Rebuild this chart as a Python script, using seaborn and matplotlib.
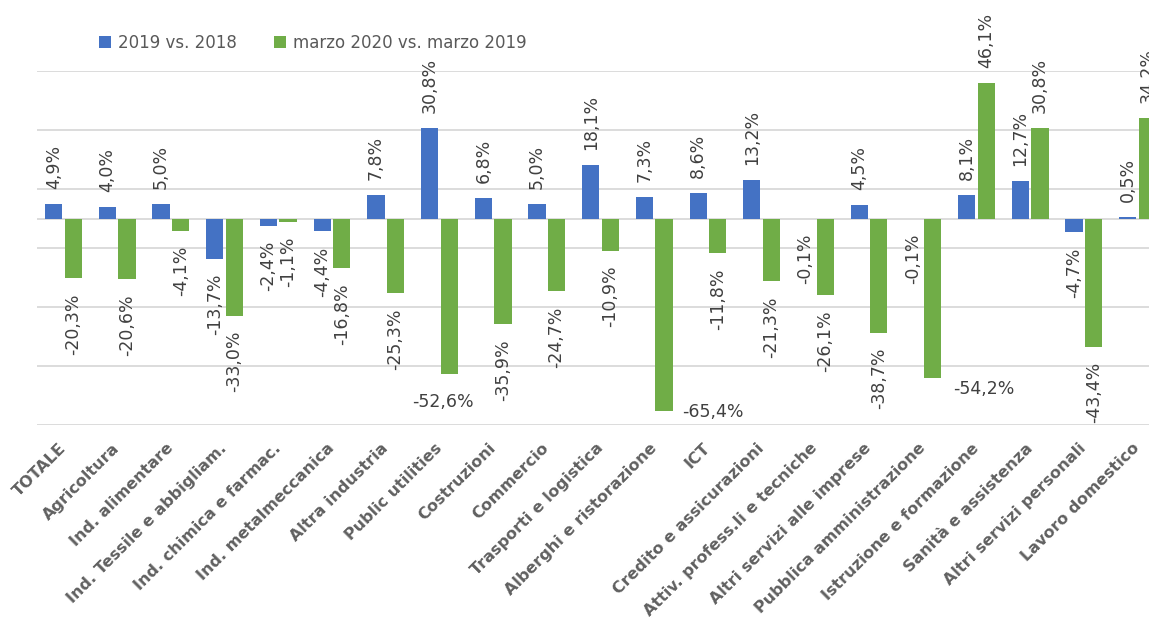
import pandas as pd
import matplotlib
matplotlib.use("Agg")
import matplotlib.pyplot as plt
import seaborn as sns

settori = [
    "TOTALE", "Agricoltura", "Ind. alimentare", "Ind. Tessile e abbigliam.",
    "Ind. chimica e farmac.", "Ind. metalmeccanica", "Altra industria",
    "Public utilities", "Costruzioni", "Commercio", "Trasporti e logistica",
    "Alberghi e ristorazione", "ICT", "Credito e assicurazioni",
    "Attiv. profess.li e tecniche", "Altri servizi alle imprese",
    "Pubblica amministrazione", "Istruzione e formazione",
    "Sanità e assistenza", "Altri servizi personali", "Lavoro domestico",
]
var_2019 = [4.9, 4.0, 5.0, -13.7, -2.4, -4.4, 7.8, 30.8, 6.8, 5.0, 18.1,
            7.3, 8.6, 13.2, -0.1, 4.5, -0.1, 8.1, 12.7, -4.7, 0.5]
var_marzo = [-20.3, -20.6, -4.1, -33.0, -1.1, -16.8, -25.3, -52.6, -35.9, -24.7, -10.9,
             -65.4, -11.8, -21.3, -26.1, -38.7, -54.2, 46.1, 30.8, -43.4, 34.2]
serie = ["2019 vs. 2018", "marzo 2020 vs. marzo 2019"]

BLUE = "#4472C4"
GREEN = "#70AD47"
GRID = "#D9D9D9"
TXT = "#404040"

df = pd.DataFrame({
    "settore": settori * 2,
    "valore": var_2019 + var_marzo,
    "serie": [serie[0]] * len(settori) + [serie[1]] * len(settori),
})

sns.set_style("white")
plt.rcParams["font.family"] = ["DejaVu Sans"]

fig = plt.figure(figsize=(11.49, 6.19), dpi=100)
ax = fig.add_axes([0.0319, 0.3134, 0.9815, 0.5719])

for y in [-70, -50, -30, -10, 10, 30, 50]:
    ax.axhline(y, color=GRID, lw=1.3, zorder=0)
ax.axhline(0, color=GRID, lw=1.3, zorder=0)

sns.barplot(data=df, x="settore", y="valore", hue="serie", palette=[BLUE, GREEN],
            saturation=1, width=0.73, gap=0.12, ax=ax, legend=True, linewidth=0)

ax.set_ylim(-70, 50)
ax.set_xlim(-0.5, len(settori) - 0.5)
ax.set_yticks([])
ax.set_xlabel("")
ax.set_ylabel("")
sns.despine(ax=ax, left=True, bottom=True)
ax.tick_params(axis="x", length=0, pad=15)
plt.setp(ax.get_xticklabels(), rotation=45, ha="right", rotation_mode="anchor",
         va="center", fontsize=11.5, fontweight="bold", color="#606060")

# etichette dei valori: alcune in orizzontale come nell'originale
speciali = {
    (1, 7): dict(xytext=(-6, -28), ha="center"),
    (1, 11): dict(xytext=(9, -1), ha="left"),
    (1, 16): dict(xytext=(12, -11), ha="left"),
}
valori = [var_2019, var_marzo]
for h, cont in enumerate(ax.containers):
    for i, bar in enumerate(cont):
        v = valori[h][i]
        xc = bar.get_x() + bar.get_width() / 2
        testo = f"{v:.1f}%".replace(".", ",")
        if (h, i) in speciali:
            opt = speciali[(h, i)]
            if opt["ha"] == "left":
                xc = bar.get_x() + bar.get_width()
            ax.annotate(testo, (xc, v), xytext=opt["xytext"], textcoords="offset pixels",
                        ha=opt["ha"], va="center", fontsize=12.5, color=TXT,
                        annotation_clip=False)
            continue
        if v >= 0:
            ax.annotate(testo, (xc, v), xytext=(0, 15), textcoords="offset pixels",
                        rotation=90, ha="center", va="bottom", fontsize=12.5,
                        color=TXT, annotation_clip=False)
        else:
            ax.annotate(testo, (xc, v), xytext=(0, -15), textcoords="offset pixels",
                        rotation=90, ha="center", va="top", fontsize=12.5,
                        color=TXT, annotation_clip=False)

handles, labels = ax.get_legend_handles_labels()
ax.legend(handles, labels, loc="upper left", bbox_to_anchor=(0.073, 0.970),
          bbox_transform=fig.transFigure, ncol=2, frameon=False, fontsize=12,
          handlelength=0.75, handleheight=0.75, handletextpad=0.4,
          columnspacing=2.2, labelcolor="#595959")

fig.savefig("out.png", dpi=100)
